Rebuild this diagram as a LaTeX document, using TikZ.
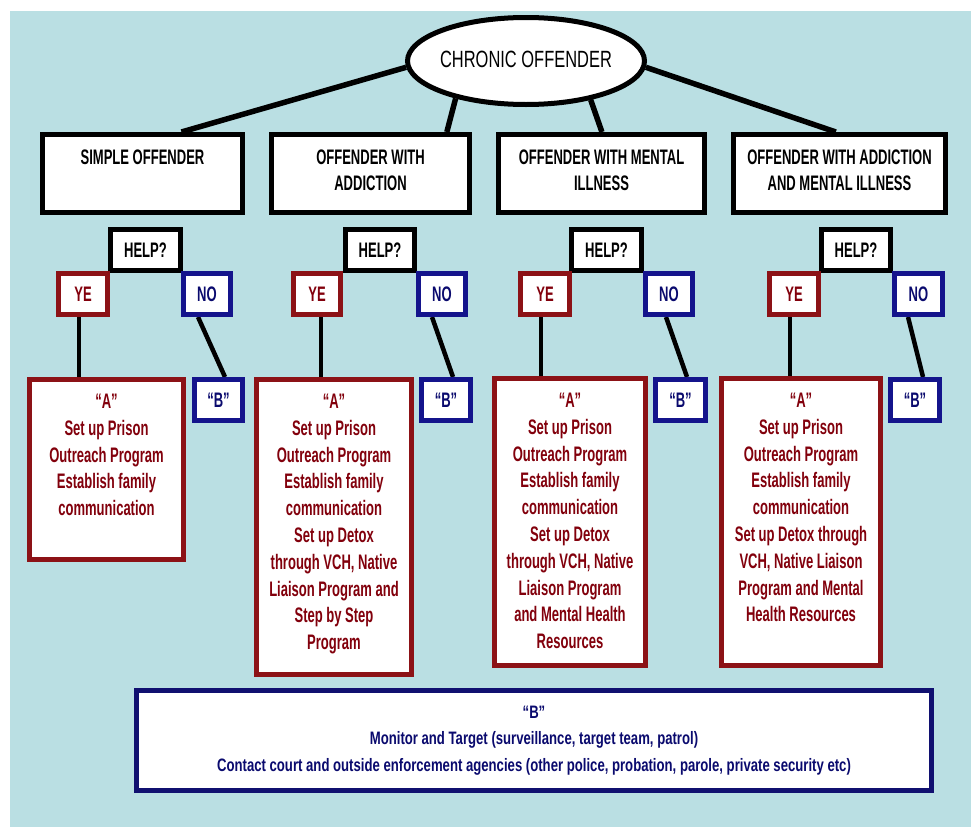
\documentclass[tikz,border=0pt]{standalone}
\usepackage{fontspec}
\setmainfont{Liberation Sans}
\newfontfamily\cndA{Liberation Sans}[FakeStretch=0.62]
\newfontfamily\cndB{Liberation Sans}[FakeStretch=0.73]
\newfontfamily\cndC{Liberation Sans}[FakeStretch=0.70]
\usetikzlibrary{shapes.geometric,calc}
\definecolor{bgc}{RGB}{186,223,227}
\definecolor{dred}{RGB}{140,18,22}
\definecolor{dredtxt}{RGB}{130,0,12}
\definecolor{dblue}{RGB}{20,20,140}
\definecolor{navytxt}{RGB}{10,10,110}
\newcommand{\topfont}{\cndA\bfseries\fontsize{21}{26}\selectfont}
\newcommand{\afont}{\cndA\bfseries\fontsize{21}{26.8}\selectfont}
\newcommand{\toptext}[2]{\parbox[c][78pt][t]{#1}{\centering\rule{0pt}{30pt}#2}}
\newcommand{\atext}[3]{\parbox[c][#2][t]{#1}{\centering\rule{0pt}{29pt}#3}}
\pgfdeclarelayer{bglayer}
\pgfdeclarelayer{connlayer}
\pgfsetlayers{bglayer,connlayer,main}
\begin{document}
\begin{tikzpicture}[x=1pt,y=-1pt,
  blkbox/.style={draw=black,line width=5pt,fill=white,inner sep=0pt,rectangle,font=\topfont,text=black},
  redbox/.style={draw=dred,line width=5pt,fill=white,inner sep=0pt,rectangle,font=\afont,text=dredtxt},
  bluebox/.style={draw=dblue,line width=5pt,fill=white,inner sep=0pt,rectangle,font=\afont,text=navytxt},
  smallbox/.style={minimum height=41pt},
  tconn/.style={line width=5.5pt,black},
  lconn/.style={line width=4.5pt,black}]
\useasboundingbox (0,0) rectangle (971,827);
\begin{pgfonlayer}{bglayer}
\fill[bgc] (10,11) rectangle (971,827);
\end{pgfonlayer}

% ellipse
\node[ellipse,draw=black,line width=5pt,fill=white,minimum width=237pt,minimum height=87pt,inner sep=0pt,
  label={[font=\cndC\fontsize{23.5}{26}\selectfont,yshift=2pt]center:CHRONIC OFFENDER}] (ell) at (526,61) {};

% top boxes
\node[blkbox] (top1) at (142.5,173.5) {\toptext{200pt}{SIMPLE OFFENDER}};
\node[blkbox] (top2) at (370.5,173.5) {\toptext{198pt}{OFFENDER WITH\\ADDICTION}};
\node[blkbox] (top3) at (601.5,173.5) {\toptext{206pt}{OFFENDER WITH MENTAL\\ILLNESS}};
\node[blkbox] (top4) at (839.5,173.5) {\toptext{212pt}{OFFENDER WITH ADDICTION\\AND MENTAL ILLNESS}};

% connectors from ellipse
\begin{pgfonlayer}{connlayer}
\draw[tconn] (ell.183) -- ($(top1.north west)!0.69!(top1.north east)$);
\draw[tconn] (ell.208.5) -- ($(top2.north west)!0.876!(top2.north east)$);
\draw[tconn] (ell.329) -- ($(top3.north west)!0.502!(top3.north east)$);
\draw[tconn] (ell.357) -- ($(top4.north west)!0.483!(top4.north east)$);
\end{pgfonlayer}

% help boxes
\node[blkbox,smallbox,minimum width=70pt] (help1) at (145.5,250) {HELP?};
\node[blkbox,smallbox,minimum width=69pt] (help2) at (380,250) {HELP?};
\node[blkbox,smallbox,minimum width=70pt] (help3) at (606.5,250) {HELP?};
\node[blkbox,smallbox,minimum width=69pt] (help4) at (856,250) {HELP?};

% yes / no boxes
\node[redbox,smallbox,minimum width=49pt] (ye1) at (83,294) {YE};
\node[bluebox,smallbox,minimum width=47pt] (no1) at (207,294) {NO};
\node[redbox,smallbox,minimum width=47pt] (ye2) at (317,294) {YE};
\node[bluebox,smallbox,minimum width=47pt] (no2) at (442,294) {NO};
\node[redbox,smallbox,minimum width=49pt] (ye3) at (545,294) {YE};
\node[bluebox,smallbox,minimum width=47pt] (no3) at (669,294) {NO};
\node[redbox,smallbox,minimum width=49pt] (ye4) at (794,294) {YE};
\node[bluebox,smallbox,minimum width=48pt] (no4) at (918.5,294) {NO};

% A boxes
\node[redbox] (a1) at (106.5,469.5) {\atext{154pt}{180pt}{“A”\\Set up Prison\\Outreach Program\\Establish family\\communication}};
\node[redbox] (a2) at (334,527) {\atext{155pt}{295pt}{“A”\\Set up Prison\\Outreach Program\\Establish family\\communication\\Set up Detox\\through VCH, Native\\Liaison Program and\\Step by Step\\Program}};
\node[redbox] (a3) at (570,522) {\atext{151pt}{287pt}{“A”\\Set up Prison\\Outreach Program\\Establish family\\communication\\Set up Detox\\through VCH, Native\\Liaison Program\\and Mental Health\\Resources}};
\node[redbox] (a4) at (801,522) {\atext{159pt}{287pt}{“A”\\Set up Prison\\Outreach Program\\Establish family\\communication\\Set up Detox through\\VCH, Native Liaison\\Program and Mental\\Health Resources}};

% B boxes
\node[bluebox,smallbox,minimum width=48pt] (b1) at (218.5,400) {“B”};
\node[bluebox,smallbox,minimum width=49pt] (b2) at (446,400) {“B”};
\node[bluebox,smallbox,minimum width=50pt] (b3) at (680.5,400) {“B”};
\node[bluebox,smallbox,minimum width=49pt] (b4) at (915,400) {“B”};

% lower connectors
\begin{pgfonlayer}{connlayer}
\draw[lconn] ([xshift=-4pt]ye1.south) -- ([xshift=-4pt]ye1.south |- a1.north);
\draw[lconn] ([xshift=-9pt]no1.south) -- ([xshift=6.5pt]b1.north);
\draw[lconn] ([xshift=4pt]ye2.south) -- ([xshift=4pt]ye2.south |- a2.north);
\draw[lconn] ([xshift=-10pt]no2.south) -- ([xshift=7pt]b2.north);
\draw[lconn] ([xshift=-4pt]ye3.south) -- ([xshift=-4pt]ye3.south |- a3.north);
\draw[lconn] ([xshift=-3pt]no3.south) -- ([xshift=6.5pt]b3.north);
\draw[lconn] ([xshift=-4pt]ye4.south) -- ([xshift=-4pt]ye4.south |- a4.north);
\draw[lconn] ([xshift=-10.5pt]no4.south) -- ([xshift=8pt]b4.north);
\end{pgfonlayer}

% bottom B box
\node[draw=dblue!80!black,line width=5pt,fill=white,inner sep=0pt,minimum width=795pt,minimum height=100pt,
  align=center,text=navytxt,font=\cndB\bfseries\fontsize{18}{26.5}\selectfont] (bigb) at (534,740.5)
  {“B”\\Monitor and Target (surveillance, target team, patrol)\\Contact court and outside enforcement agencies (other police, probation, parole, private security etc)};
\end{tikzpicture}
\end{document}
